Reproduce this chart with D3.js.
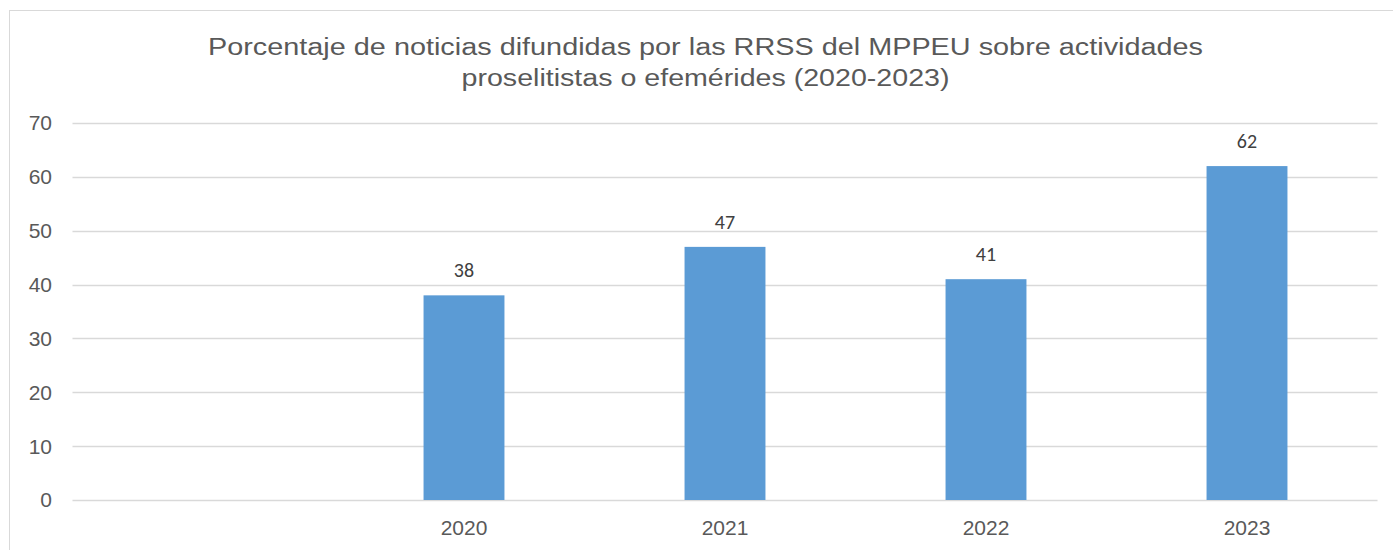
<!DOCTYPE html>
<html><head><meta charset="utf-8">
<script src="https://cdn.jsdelivr.net/npm/d3@7"></script>
<style>body{margin:0;background:#fff}svg{display:block}</style>
</head><body>
<script>
const categories = ["", "2020", "2021", "2022", "2023"];
const values = [null, 38, 47, 41, 62];
const yTicks = [0, 10, 20, 30, 40, 50, 60, 70];
const titleLines = ["Porcentaje de noticias difundidas por las RRSS del MPPEU sobre actividades", "proselitistas o efemérides (2020-2023)"];

(function () {
const W = 1393, H = 550;
const svg = d3.select("body").append("svg").attr("width", W).attr("height", H);

// chart frame
svg.append("rect").attr("x", 9.5).attr("y", 10.5).attr("width", W + 10).attr("height", H + 10)
  .attr("fill", "#fff").attr("stroke", "#d9d9d9").attr("stroke-width", 1);

const mLeft = 72.5, mRight = 1377.5, mTop = 123, mBottom = 500;
const x = d3.scaleBand().domain(categories.map((c, i) => i)).range([mLeft, mRight]).paddingInner(0.69).paddingOuter(0.345);
const y = d3.scaleLinear().domain([0, 70]).range([mBottom, mTop]);

// gridlines
svg.append("g").selectAll("line").data(yTicks).join("line")
  .attr("x1", mLeft).attr("x2", mRight)
  .attr("y1", d => Math.round(y(d)) + 0.5).attr("y2", d => Math.round(y(d)) + 0.5)
  .attr("stroke", "#d9d9d9").attr("stroke-width", 1.3);

// y axis labels
const yAxis = d3.axisLeft(y).tickValues(yTicks).tickSize(0).tickPadding(0);
const gy = svg.append("g").attr("transform", `translate(52,0)`).call(yAxis);
gy.select(".domain").remove();
gy.selectAll("text").attr("fill", "#595959").style("font-family", "'Liberation Sans', Arial, sans-serif").style("font-size", "21px").attr("dy", "0.33em");

// x axis labels
const xAxis = d3.axisBottom(x).tickFormat(i => categories[i]).tickSize(0).tickPadding(0);
const gx = svg.append("g").attr("transform", `translate(0,${mBottom + 20})`).call(xAxis);
gx.select(".domain").remove();
gx.selectAll("text").attr("fill", "#595959").style("font-family", "'Liberation Sans', Arial, sans-serif").style("font-size", "21px").attr("dy", "0.71em");

// bars
const data = categories.map((c, i) => ({i, v: values[i]})).filter(d => d.v != null);
svg.append("g").selectAll("rect").data(data).join("rect")
  .attr("x", d => x(d.i)).attr("width", x.bandwidth())
  .attr("y", d => y(d.v)).attr("height", d => y(0) - y(d.v))
  .attr("fill", "#5b9bd5");

// data labels
svg.append("g").selectAll("text").data(data).join("text")
  .attr("x", d => x(d.i) + x.bandwidth() / 2).attr("y", d => y(d.v) - 18)
  .attr("text-anchor", "middle").attr("fill", "#404040")
  .style("font-family", "Carlito, 'Liberation Sans', sans-serif").style("font-size", "20px")
  .text(d => d.v);

// title
const tw = [995, 488];
svg.append("g").selectAll("text").data(titleLines).join("text")
  .attr("x", 705.5).attr("y", (d, i) => 55 + i * 31)
  .attr("text-anchor", "middle").attr("fill", "#595959")
  .style("font-family", "'Liberation Sans Narrow', 'Liberation Sans', Arial, sans-serif").style("font-size", "23px")
  .attr("textLength", (d, i) => tw[i]).attr("lengthAdjust", "spacingAndGlyphs")
  .text(d => d);
})();
</script>
</body></html>
